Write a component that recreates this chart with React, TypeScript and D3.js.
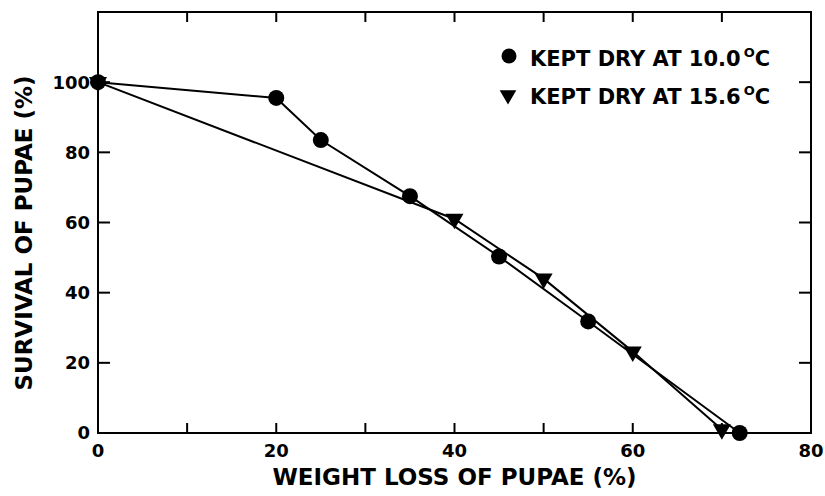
import * as d3 from "d3";
import { useEffect, useRef } from "react";

// 10.0 C series (circles)
const lossDry10 = [0, 20, 25, 35, 45, 55, 72];
const survDry10 = [100, 95.5, 83.5, 67.5, 50.3, 31.8, 0];
// 15.6 C series (triangles)
const lossDry156 = [0, 40, 50, 60, 70];
const survDry156 = [100, 61, 44, 23.2, 1];

const xLabels = [0, 20, 40, 60, 80];
const xTicks = [10, 20, 30, 40, 50, 60, 70];
const yLabels = [0, 20, 40, 60, 80, 100];
const yTicks = [20, 40, 60, 80, 100];
const legendItems = ["KEPT DRY AT 10.0", "KEPT DRY AT 15.6"];

export default function App() {
  const ref = useRef<SVGSVGElement | null>(null);

  useEffect(() => {
    if (!ref.current) return;
    document.body.style.margin = "0";

    const svg = d3.select(ref.current);
    svg.selectAll("*").remove();

    const width = 825;
    const height = 496;
    const font = "'DejaVu Sans', sans-serif";

    const x = d3.scaleLinear().domain([0, 80]).range([98, 811]);
    const y = d3.scaleLinear().domain([0, 120]).range([433, 12]);

    svg.attr("width", width).attr("height", height);
    svg.append("rect").attr("width", width).attr("height", height).attr("fill", "#fff");

    // frame
    svg
      .append("rect")
      .attr("x", x(0))
      .attr("y", y(120))
      .attr("width", x(80) - x(0))
      .attr("height", y(0) - y(120))
      .attr("fill", "none")
      .attr("stroke", "#000")
      .attr("stroke-width", 2);

    const ticks = svg.append("g").attr("stroke", "#000").attr("stroke-width", 2);
    // bottom + top ticks (inside)
    ticks
      .selectAll("line.b")
      .data(xTicks)
      .join("line")
      .attr("class", "b")
      .attr("x1", (d) => x(d))
      .attr("x2", (d) => x(d))
      .attr("y1", y(0))
      .attr("y2", y(0) - 10);
    ticks
      .selectAll("line.t")
      .data(xTicks)
      .join("line")
      .attr("class", "t")
      .attr("x1", (d) => x(d))
      .attr("x2", (d) => x(d))
      .attr("y1", y(120))
      .attr("y2", y(120) + 10);
    // left + right ticks (inside)
    ticks
      .selectAll("line.l")
      .data(yTicks)
      .join("line")
      .attr("class", "l")
      .attr("x1", x(0))
      .attr("x2", x(0) + 12)
      .attr("y1", (d) => y(d))
      .attr("y2", (d) => y(d));
    ticks
      .selectAll("line.r")
      .data(yTicks)
      .join("line")
      .attr("class", "r")
      .attr("x1", x(80))
      .attr("x2", x(80) - 12)
      .attr("y1", (d) => y(d))
      .attr("y2", (d) => y(d));

    // tick labels
    svg
      .append("g")
      .selectAll("text")
      .data(xLabels)
      .join("text")
      .attr("x", (d) => x(d))
      .attr("y", 457)
      .attr("text-anchor", "middle")
      .style("font-family", font)
      .style("font-weight", "bold")
      .style("font-size", "18px")
      .text((d) => d);

    svg
      .append("g")
      .selectAll("text")
      .data(yLabels)
      .join("text")
      .attr("x", 90)
      .attr("y", (d) => y(d))
      .attr("dy", "0.36em")
      .attr("text-anchor", "end")
      .style("font-family", font)
      .style("font-weight", "bold")
      .style("font-size", "18px")
      .text((d) => d);

    // axis titles
    svg
      .append("text")
      .attr("x", (x(0) + x(80)) / 2)
      .attr("y", 485)
      .attr("text-anchor", "middle")
      .style("font-family", font)
      .style("font-weight", "bold")
      .style("font-size", "23px")
      .text("WEIGHT LOSS OF PUPAE (%)");

    svg
      .append("text")
      .attr("transform", `translate(32,233) rotate(-90)`)
      .attr("text-anchor", "middle")
      .style("font-family", font)
      .style("font-weight", "bold")
      .style("font-size", "23px")
      .text("SURVIVAL OF PUPAE (%)");

    // lines
    const line = d3
      .line<[number, number]>()
      .x((d) => x(d[0]))
      .y((d) => y(d[1]));

    const pts10 = lossDry10.map((v, i) => [v, survDry10[i]] as [number, number]);
    const pts156 = lossDry156.map((v, i) => [v, survDry156[i]] as [number, number]);

    svg
      .append("path")
      .attr("d", line(pts156))
      .attr("fill", "none")
      .attr("stroke", "#000")
      .attr("stroke-width", 2);
    svg
      .append("path")
      .attr("d", line(pts10))
      .attr("fill", "none")
      .attr("stroke", "#000")
      .attr("stroke-width", 2);

    const tri = d3.symbol().type(d3.symbolTriangle).size(140);
    svg
      .append("g")
      .selectAll("path")
      .data(pts156)
      .join("path")
      .attr("d", tri())
      .attr("transform", (d) => `translate(${x(d[0])},${y(d[1])}) rotate(180)`)
      .attr("fill", "#000");

    svg
      .append("g")
      .selectAll("circle")
      .data(pts10)
      .join("circle")
      .attr("cx", (d) => x(d[0]))
      .attr("cy", (d) => y(d[1]))
      .attr("r", 8)
      .attr("fill", "#000");

    // legend
    const legend = svg.append("g");
    legend.append("circle").attr("cx", 509).attr("cy", 56).attr("r", 7.5).attr("fill", "#000");
    legend
      .append("path")
      .attr("d", d3.symbol().type(d3.symbolTriangle).size(120)())
      .attr("transform", "translate(508,95) rotate(180)")
      .attr("fill", "#000");

    legend
      .selectAll("text")
      .data(legendItems)
      .join("text")
      .attr("x", 530)
      .attr("y", (_d, i) => 66 + i * 38)
      .style("font-family", font)
      .style("font-weight", "bold")
      .style("font-size", "21px")
      .each(function (d) {
        const t = d3.select(this);
        t.append("tspan").text(d);
        t.append("tspan").attr("dx", 3).attr("dy", -9).style("font-size", "13px").text("O");
        t.append("tspan").attr("dy", 9).text("C");
      });
  }, []);

  return <svg ref={ref} style={{ display: "block" }} />;
}
